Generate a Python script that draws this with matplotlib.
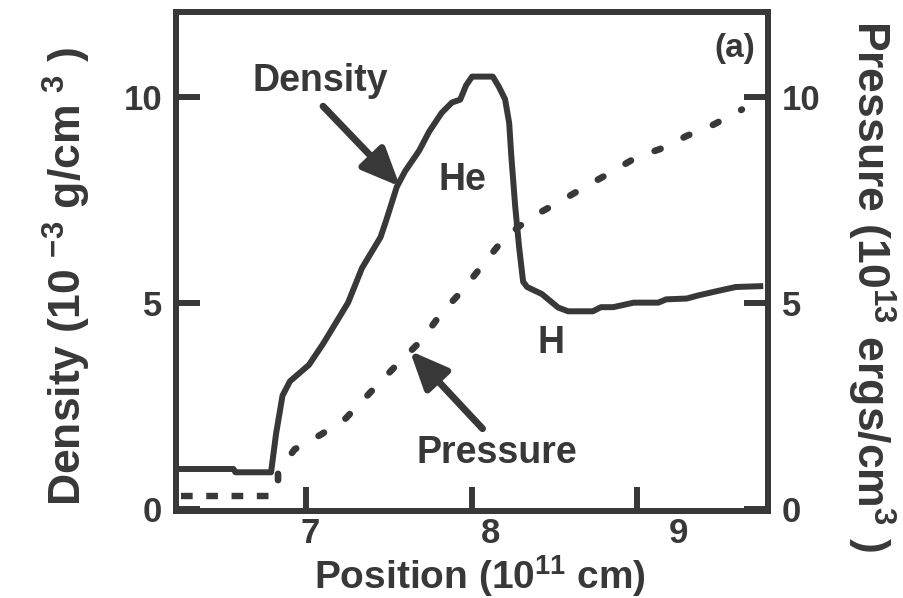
import matplotlib
matplotlib.use("Agg")
import matplotlib.pyplot as plt
from matplotlib.transforms import ScaledTranslation
import numpy as np

plt.rcParams['font.family'] = ['Liberation Sans', 'DejaVu Sans']
plt.rcParams['font.weight'] = 'bold'
plt.rcParams['axes.labelweight'] = 'bold'
plt.rcParams['mathtext.fontset'] = 'custom'
plt.rcParams['mathtext.rm'] = 'Liberation Sans:bold'
plt.rcParams['mathtext.it'] = 'Liberation Sans:bold'
plt.rcParams['mathtext.bf'] = 'Liberation Sans:bold'
plt.rcParams['lines.scale_dashes'] = False

ink = '#383838'

# density profile, 1e-3 g/cm^3, position in 1e11 cm
pos_dens = [6.245, 6.562, 6.574, 6.789, 6.819, 6.858, 6.903, 7.018, 7.103, 7.203,
            7.254, 7.338, 7.450, 7.486, 7.548, 7.598, 7.683, 7.743, 7.819, 7.881,
            7.931, 7.967, 8.003, 8.128, 8.165, 8.202, 8.227, 8.239, 8.263, 8.287,
            8.311, 8.335, 8.424, 8.523, 8.583, 8.732, 8.781, 8.855, 8.979, 9.127,
            9.175, 9.299, 9.373, 9.471, 9.595, 9.743]
density = [0.97, 0.97, 0.89, 0.89, 1.82, 2.75, 3.10, 3.50, 4.01, 4.67,
           5.01, 5.85, 6.60, 7.03, 7.82, 8.20, 8.70, 9.16, 9.62, 9.87,
           9.94, 10.29, 10.50, 10.50, 10.25, 9.95, 9.37, 8.61, 7.36, 6.35,
           5.52, 5.39, 5.22, 4.89, 4.80, 4.80, 4.90, 4.90, 5.01, 5.01,
           5.09, 5.11, 5.19, 5.28, 5.39, 5.41]

# pressure, 1e13 ergs/cm^3: unshocked gas ahead of the front
pos_pres_low = [6.248, 6.78]
pres_low = [0.32, 0.32]
# pressure behind the front
pos_pres = [6.831, 6.831, 6.932, 7.092, 7.240, 7.400, 7.548, 7.696, 7.819, 7.943,
            8.078, 8.202, 8.362, 8.523, 8.683, 8.831, 8.991, 9.151, 9.299, 9.459, 9.632]
pres = [0.70, 0.92, 1.45, 1.81, 2.20, 2.88, 3.50, 4.09, 4.76, 5.30,
        5.98, 6.60, 7.09, 7.44, 7.82, 8.15, 8.53, 8.76, 9.06, 9.33, 9.70]

xticks = [7, 8, 9]
yticks = [0, 5, 10]

fig = plt.figure(figsize=(9.04, 5.98), dpi=100)
ax = fig.add_axes([0.1947, 0.1455, 0.6549, 0.8345])
ax2 = ax.twinx()

ax.plot(pos_dens, density, color=ink, lw=4.3, solid_joinstyle='round')
ax2.plot(pos_pres_low, pres_low, color=ink, lw=4.6, linestyle=(0, (8.4, 9.8)),
         dash_capstyle='butt')
ax2.plot(pos_pres, pres, color=ink, lw=4.8, linestyle=(0, (4.5, 18.5)),
         dash_capstyle='round')

ax.set_xlim(6.215, 9.79)
ax.set_ylim(-0.05, 12.07)
ax2.set_ylim(-0.05, 12.07)

ax.set_xticks(xticks)
ax.set_yticks(yticks)
ax2.set_yticks(yticks)
ax.tick_params(axis='both', direction='in', length=17, width=4.3, color=ink,
               labelsize=25, labelcolor=ink)
ax.tick_params(axis='y', pad=10)
ax.tick_params(axis='x', pad=4)
ax2.tick_params(axis='y', direction='in', length=17, width=4.3, color=ink,
                labelsize=25, labelcolor=ink, pad=10)

# the x numbers sit a bit right of their ticks
for lab, dx in zip(ax.get_xticklabels(), [4, 19, 41]):
    lab.set_transform(lab.get_transform() + ScaledTranslation(dx / 100, 0, fig.dpi_scale_trans))

for a in (ax, ax2):
    for sp in a.spines.values():
        sp.set_linewidth(4.3)
        sp.set_color(ink)

ax.set_xlabel('Position (10$^{11}$ cm)', fontsize=28, color=ink, va='bottom')
ax.xaxis.set_label_coords(0.514, -0.176)
ax.set_ylabel('Density (10$\\;^{-3}$ g/cm$\\;^{3}$ )', fontsize=32, color=ink)
ax.yaxis.set_label_coords(-0.14, 0.47)
ax2.set_ylabel('Pressure (10$^{13}$ ergs/cm$^{3}$ )', fontsize=32, color=ink,
               rotation=-90, va='bottom', rotation_mode='anchor')
ax2.yaxis.set_label_coords(1.13, 0.45)

# labels and arrows inside the frame
ax.text(7.085, 10.39, 'Density', fontsize=27, color=ink, ha='center', va='center')
ax.text(7.943, 8.0, 'He', fontsize=27, color=ink, ha='center', va='center')
ax.text(8.480, 4.03, 'H', fontsize=27, color=ink, ha='center', va='center')
ax.text(8.152, 1.35, 'Pressure', fontsize=27, color=ink, ha='center', va='center')
ax.text(9.589, 11.19, '(a)', fontsize=24, color=ink, ha='center', va='center')

arrow = dict(arrowstyle='-|>,head_length=1.15,head_width=0.5', color=ink, lw=5,
             mutation_scale=20, shrinkA=0, shrinkB=0)
ax.annotate('', xy=(7.568, 7.83), xytext=(7.103, 9.78), arrowprops=arrow)
ax.annotate('', xy=(7.627, 3.84), xytext=(8.066, 1.95), arrowprops=arrow)

fig.savefig('out.png', dpi=100)
